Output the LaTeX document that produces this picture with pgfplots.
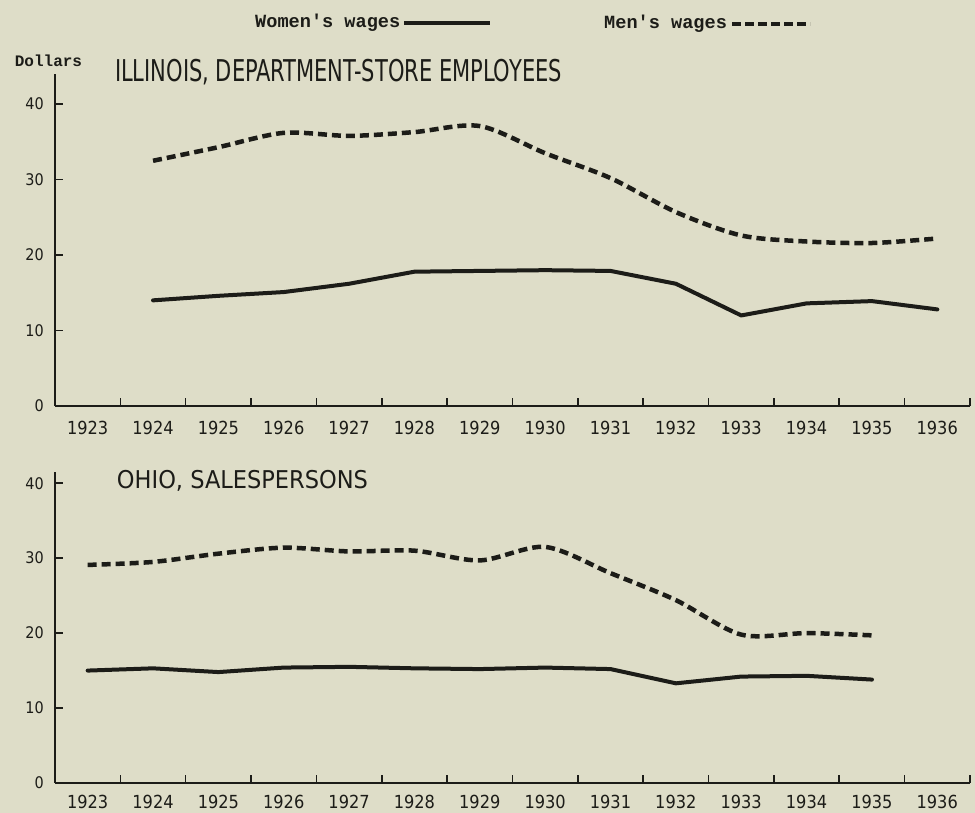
\documentclass[border=0pt]{standalone}
\usepackage{fontspec}
\usepackage{pgfplots}
\pgfplotsset{compat=1.18}
\newfontfamily\lettering{DejaVu Sans Condensed}
\newfontfamily\typew{Liberation Mono}[Ligatures=TeXOff]
\definecolor{bg}{RGB}{222,221,200}
\definecolor{ink}{RGB}{28,28,24}

\pgfplotstableread{
year women men
1924 14.0 32.5
1925 14.6 34.3
1926 15.1 36.2
1927 16.2 35.8
1928 17.8 36.3
1929 17.9 37.1
1930 18.0 33.5
1931 17.9 30.2
1932 16.2 25.7
1933 12.0 22.6
1934 13.6 21.8
1935 13.9 21.6
1936 12.8 22.2
}\illinois

\pgfplotstableread{
year women men
1923 15.0 29.1
1924 15.3 29.5
1925 14.8 30.6
1926 15.4 31.4
1927 15.5 30.9
1928 15.3 31.0
1929 15.2 29.7
1930 15.4 31.5
1931 15.2 28.0
1932 13.3 24.4
1933 14.2 19.8
1934 14.3 20.0
1935 13.8 19.7
}\ohio

\pgfplotsset{chart/.style={
  scale only axis, width=915pt,
  xmin=1922.5, xmax=1936.5, ymin=0,
  axis lines=left, axis line style={-, line width=1.8pt, ink},
  xtick={1923,...,1936},
  minor xtick={1923.5,1924.5,...,1936.5},
  major x tick style={draw=none},
  minor x tick style={line width=1.5pt, ink},
  minor tick length=8pt,
  ytick={0,10,20,30,40},
  y tick style={line width=1.5pt, ink},
  major tick length=8pt, tick align=inside,
  /pgf/number format/assume math mode=true,
  /pgf/number format/1000 sep={},
  x tick label style={font=\lettering\fontsize{18}{18}\selectfont, anchor=center, inner sep=0pt, text=ink},
  y tick label style={font=\lettering\fontsize{16}{16}\selectfont, anchor=east, inner sep=0pt, xshift=-11pt, text=ink},
  clip=false,
  women/.style={ink, line width=4pt, line join=round, line cap=round},
  men/.style={ink, line width=4.5pt, dash pattern=on 9pt off 5pt, smooth, tension=0.5},
}}

\begin{document}
\begin{tikzpicture}[x=1pt,y=1pt]
\fill[bg] (0,0) rectangle (975,813);
\useasboundingbox (0,0) rectangle (975,813);

% legend
\node[anchor=west, inner sep=0, text=ink, font=\typew\bfseries\fontsize{18.6}{18.6}\selectfont] at (255,790) {Women's wages};
\draw[ink, line width=4pt] (404,790) -- (490,790);
\node[anchor=west, inner sep=0, text=ink, font=\typew\bfseries\fontsize{18.6}{18.6}\selectfont] at (604,789) {Men's wages};
\draw[ink, line width=4.5pt, dash pattern=on 9pt off 4pt] (732,789) -- (810,789);

\node[inner sep=0, text=ink, font=\typew\bfseries\fontsize{16}{16}\selectfont] at (48.5,752) {Dollars};

\begin{axis}[chart, at={(55pt,407pt)}, anchor=south west, height=332pt, ymax=44,
  x tick label style={yshift=-22pt}]
\addplot[women] table[x=year, y=women] {\illinois};
\addplot[men] table[x=year, y=men] {\illinois};
\end{axis}
\node[inner sep=0, text=ink] at (338.5,740.5) {\resizebox{447pt}{\height}{\lettering\fontsize{30}{30}\selectfont ILLINOIS, DEPARTMENT-STORE EMPLOYEES}};

\begin{axis}[chart, at={(55pt,30pt)}, anchor=south west, height=311pt, ymax=41.5,
  x tick label style={yshift=-19pt}]
\addplot[women] table[x=year, y=women] {\ohio};
\addplot[men] table[x=year, y=men] {\ohio};
\end{axis}
\node[inner sep=0, text=ink] at (242.5,332) {\resizebox{251pt}{\height}{\lettering\fontsize{24.5}{24.5}\selectfont OHIO, SALESPERSONS}};
\end{tikzpicture}
\end{document}
